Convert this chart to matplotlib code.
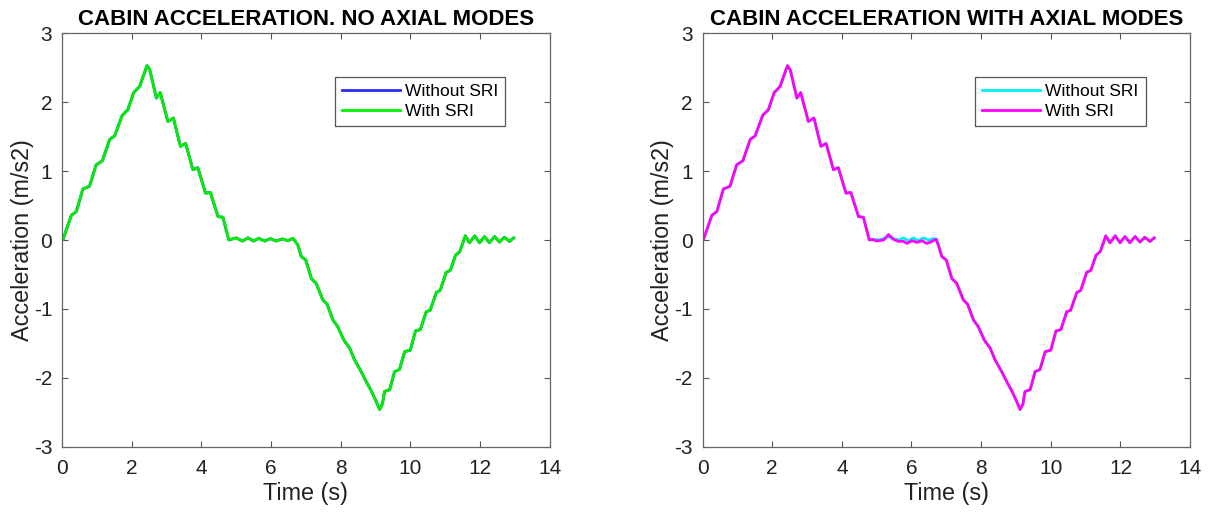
import numpy as np
import matplotlib
matplotlib.use("Agg")
import matplotlib.pyplot as plt

plt.rcParams['font.family'] = ['Liberation Sans', 'DejaVu Sans']
plt.rcParams['axes.unicode_minus'] = False

# values (time in s, acceleration in m/s2)
t_up = [0.0, 0.03, 0.27, 0.41, 0.60, 0.79, 0.98, 1.16, 1.37, 1.51, 1.73, 1.89,
        2.06, 2.23, 2.44, 2.52, 2.71, 2.82, 3.04, 3.20, 3.40, 3.55, 3.76, 3.90,
        4.12, 4.26, 4.48, 4.62, 4.79]
a_up = [0.0, 0.01, 0.36, 0.41, 0.74, 0.78, 1.09, 1.15, 1.46, 1.51, 1.81, 1.89,
        2.14, 2.23, 2.53, 2.47, 2.06, 2.14, 1.72, 1.77, 1.36, 1.40, 1.02, 1.05,
        0.68, 0.69, 0.34, 0.33, 0.0]

# plateau, no axial modes
t_flat = [5.00, 5.18, 5.34, 5.50, 5.65, 5.82, 5.98, 6.15, 6.32, 6.49, 6.63]
a_flat = [0.03, -0.015, 0.03, -0.015, 0.024, -0.015, 0.02, -0.015, 0.015, -0.01, 0.024]

# plateau, with axial modes
t_flat_wo = [4.91, 5.05, 5.20, 5.34, 5.48, 5.63, 5.77, 5.91, 6.06, 6.20, 6.35, 6.49, 6.63, 6.73]
a_flat_wo = [0.01, 0.0, 0.02, 0.05, 0.02, 0.0, 0.03, -0.01, 0.03, -0.01, 0.03, 0.0, 0.02, 0.01]
t_flat_w = [4.86, 5.01, 5.20, 5.34, 5.48, 5.63, 5.77, 5.87, 6.01, 6.16, 6.30, 6.44, 6.59, 6.70]
a_flat_w = [0.01, -0.015, 0.0, 0.08, 0.01, -0.02, -0.02, -0.05, -0.01, -0.035, -0.01, -0.05, -0.02, 0.01]

t_down = [6.77, 6.87, 7.00, 7.16, 7.30, 7.49, 7.61, 7.78, 7.92, 8.09, 8.26, 8.40,
          8.59, 8.74, 8.88, 9.00, 9.12, 9.20, 9.26, 9.41, 9.55, 9.69, 9.84, 10.00,
          10.15, 10.29, 10.46, 10.57, 10.75, 10.86, 11.03, 11.15, 11.30, 11.42,
          11.58, 11.70, 11.85, 11.99, 12.13, 12.27, 12.42, 12.56, 12.70, 12.85, 12.97]
a_down = [-0.07, -0.24, -0.29, -0.56, -0.63, -0.87, -0.93, -1.16, -1.26, -1.45, -1.57, -1.74,
          -1.91, -2.06, -2.19, -2.32, -2.46, -2.38, -2.20, -2.17, -1.91, -1.88, -1.62, -1.60,
          -1.32, -1.30, -1.04, -1.02, -0.76, -0.73, -0.47, -0.44, -0.22, -0.17,
          0.06, -0.04, 0.06, -0.04, 0.05, -0.04, 0.05, -0.03, 0.04, -0.02, 0.03]

titles = ["CABIN ACCELERATION. NO AXIAL MODES", "CABIN ACCELERATION WITH AXIAL MODES"]
labels = ["Without SRI", "With SRI"]

t_left = t_up + t_flat + t_down
a_left = a_up + a_flat + a_down
t_wo = t_up + t_flat_wo + t_down
a_wo = a_up + a_flat_wo + a_down
t_w = t_up + t_flat_w + t_down
a_w = a_up + a_flat_w + a_down

fig = plt.figure(figsize=(12.1, 5.15), dpi=100)
ax1 = fig.add_axes([62 / 1210, 68.3 / 515, 487.6 / 1210, 413.4 / 515])
ax2 = fig.add_axes([702.5 / 1210, 68.3 / 515, 487.6 / 1210, 413.4 / 515])

ax1.plot(t_left, a_left, color="#2a2af5", lw=2, label=labels[0])
ax1.plot(t_left, a_left, color="#00f000", lw=2, label=labels[1])
ax2.plot(t_wo, a_wo, color="#00f0f0", lw=2, label=labels[0])
ax2.plot(t_w, a_w, color="#ff00ff", lw=2, label=labels[1])

for ax, title in zip([ax1, ax2], titles):
    ax.set_xlim(0, 14)
    ax.set_ylim(-3, 3)
    ax.set_xticks(np.arange(0, 15, 2))
    ax.set_yticks(np.arange(-3, 4, 1))
    ax.tick_params(direction="in", top=True, right=True, length=4, width=0.8,
                   color="#555555", labelsize=15, labelcolor="#222222")
    ax.tick_params(axis="x", pad=9)
    ax.tick_params(axis="y", pad=7)
    for s in ax.spines.values():
        s.set_color("#666666")
        s.set_linewidth(0.9)
    ax.set_title(title, fontsize=16, fontweight="bold", pad=6)
    ax.set_xlabel("Time (s)", fontsize=16.8, color="#222222", labelpad=3)
    ax.set_ylabel("Acceleration (m/s2)", fontsize=16.8, color="#222222", labelpad=0)
    leg = ax.legend(loc="upper right", bbox_to_anchor=(0.909, 0.895), fontsize=12.6,
                    fancybox=False, framealpha=1, edgecolor="#555555",
                    handlelength=3.3, handletextpad=0.3, labelspacing=0.3,
                    borderpad=0.4, borderaxespad=0)
    leg.get_frame().set_linewidth(0.9)

fig.savefig("out.png", dpi=100)
